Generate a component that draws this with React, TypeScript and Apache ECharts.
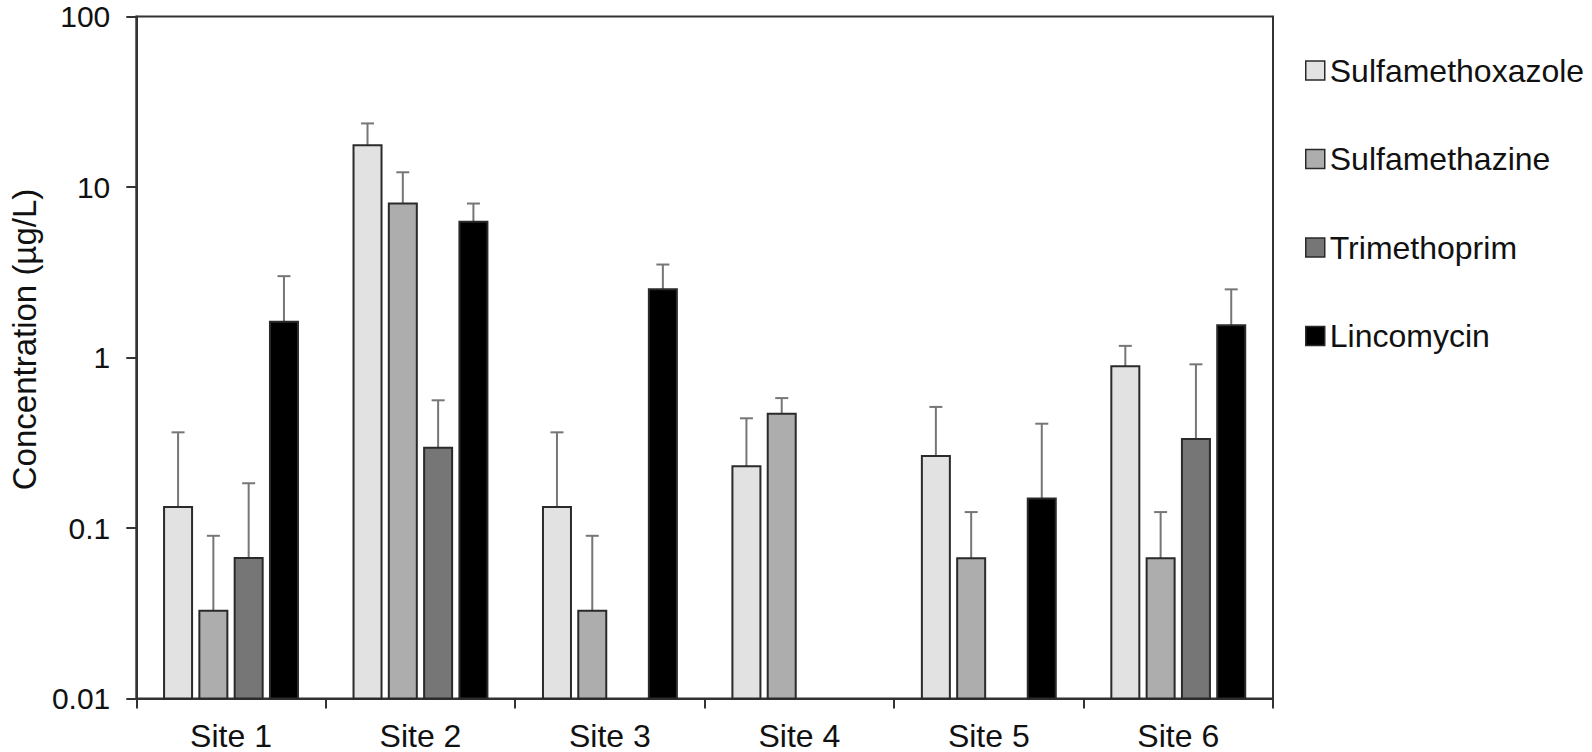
import React, { useEffect, useRef } from "react";
import * as echarts from "echarts";

const categories = ["Site 1", "Site 2", "Site 3", "Site 4", "Site 5", "Site 6"];
const seriesNames = ["Sulfamethoxazole", "Sulfamethazine", "Trimethoprim", "Lincomycin"];

// mean concentrations (µg/L); null = not detected
const sulfamethoxazole = [0.133, 17.6, 0.133, 0.23, 0.264, 0.89];
const sulfamethazine = [0.0327, 8.0, 0.0327, 0.468, 0.0664, 0.0664];
const trimethoprim = [0.0667, 0.296, null, null, null, 0.333];
const lincomycin = [1.62, 6.26, 2.51, null, 0.149, 1.545];

// upper end of the error bars (µg/L)
const sulfamethoxazoleErr = [0.364, 23.6, 0.364, 0.44, 0.513, 1.17];
const sulfamethazineErr = [0.09, 12.2, 0.09, 0.578, 0.124, 0.124];
const trimethoprimErr = [0.183, 0.561, null, null, null, 0.912];
const lincomycinErr = [3.0, 8.0, 3.51, null, 0.409, 2.51];

const yTickLabels = ["0.01", "0.1", "1", "10", "100"];
const Y_MIN = 0.01;
const Y_MAX = 100;

const colors = ["#e2e2e2", "#adadad", "#767676", "#000000"];
const FONT = "'Liberation Sans', Arial, Helvetica, sans-serif";

const BAR_W = 28;
const BAR_STEP = 35.3;
const CAP_W = 13;

export default function App() {
  const ref = useRef<HTMLDivElement>(null);

  useEffect(() => {
    if (!ref.current) return;
    const chart = echarts.init(ref.current, undefined, { renderer: "svg" });

    const values = [sulfamethoxazole, sulfamethazine, trimethoprim, lincomycin];
    const errs = [sulfamethoxazoleErr, sulfamethazineErr, trimethoprimErr, lincomycinErr];

    const series = seriesNames.map((name, si) => {
      const data: any[] = [];
      values[si].forEach((v, ci) => {
        if (v != null) data.push([ci, v, errs[si][ci]]);
      });
      const offset = (si - 1.5) * BAR_STEP;
      return {
        name,
        type: "custom",
        itemStyle: { color: colors[si], borderColor: "#2a2a2a", borderWidth: 2 },
        encode: { x: 0, y: [1, 2] },
        data,
        renderItem: (params: any, api: any) => {
          const ci = api.value(0);
          const v = api.value(1);
          const e = api.value(2);
          const top = api.coord([ci, v]);
          const base = api.coord([ci, Y_MIN]);
          const errTop = api.coord([ci, e]);
          const cx = top[0] + offset;
          return {
            type: "group",
            children: [
              {
                type: "line",
                shape: { x1: cx, y1: top[1], x2: cx, y2: errTop[1] },
                style: { stroke: "#767676", lineWidth: 2 },
              },
              {
                type: "line",
                shape: { x1: cx - CAP_W / 2, y1: errTop[1], x2: cx + CAP_W / 2, y2: errTop[1] },
                style: { stroke: "#767676", lineWidth: 2 },
              },
              {
                type: "rect",
                shape: { x: cx - BAR_W / 2, y: top[1], width: BAR_W, height: base[1] - top[1] },
                style: { fill: colors[si], stroke: "#2a2a2a", lineWidth: 2 },
              },
            ],
          };
        },
      };
    });

    chart.setOption({
      animation: false,
      backgroundColor: "#ffffff",
      textStyle: { fontFamily: FONT },
      grid: {
        left: 118,
        right: 319,
        top: 16.5,
        bottom: 53.5,
        show: true,
        borderColor: "#333",
        borderWidth: 2,
        backgroundColor: "transparent",
      },
      legend: {
        orient: "vertical",
        left: 1300,
        top: 49.5,
        itemWidth: 19,
        itemHeight: 19,
        itemGap: 56.5,
        textStyle: { fontSize: 32, lineHeight: 32, color: "#111", fontFamily: FONT },
        data: seriesNames.map((n, i) => ({
          name: n,
          icon: "rect",
          itemStyle: { color: colors[i], borderColor: "#2a2a2a", borderWidth: 1.5 },
        })),
      },
      xAxis: {
        type: "category",
        data: categories,
        axisLine: { lineStyle: { color: "#333", width: 2 } },
        axisTick: { show: true, length: 10, lineStyle: { color: "#333", width: 2 } },
        axisLabel: { fontSize: 32, color: "#111", margin: 21, fontFamily: FONT },
        splitLine: { show: false },
      },
      yAxis: {
        type: "log",
        logBase: 10,
        min: Y_MIN,
        max: Y_MAX,
        name: "Concentration (µg/L)",
        nameLocation: "middle",
        nameGap: 86,
        nameRotate: 90,
        nameTextStyle: { fontSize: 33, color: "#111", fontFamily: FONT, padding: [0, 0, 0, 36] },
        axisLine: { show: true, lineStyle: { color: "#333", width: 2 } },
        axisTick: { show: true, length: 10, lineStyle: { color: "#333", width: 2 } },
        minorTick: { show: false },
        axisLabel: {
          fontSize: 30,
          color: "#111",
          margin: 26,
          fontFamily: FONT,
          formatter: (v: number) => {
            const idx = Math.round(Math.log10(v) - Math.log10(Y_MIN));
            return yTickLabels[idx] ?? String(v);
          },
        },
        splitLine: { show: false },
      },
      series,
    });

    return () => chart.dispose();
  }, []);

  return (
    <div
      ref={ref}
      style={{ position: "fixed", left: 0, top: 0, width: 1592, height: 752, background: "#fff" }}
    />
  );
}
